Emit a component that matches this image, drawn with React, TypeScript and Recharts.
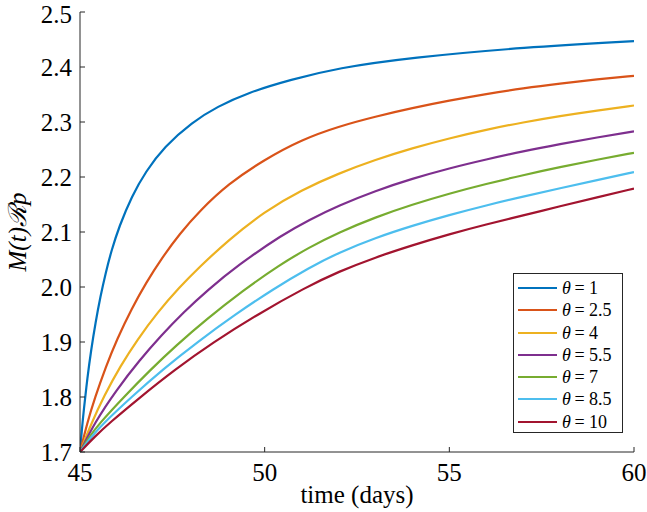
import React from 'react';
import { LineChart, Line, XAxis, YAxis, Legend, Label } from 'recharts';

const seriesNames = ['1', '2.5', '4', '5.5', '7', '8.5', '10'];
const seriesColors = ['#0072BD', '#D95319', '#EDB120', '#7E2F8E', '#77AC30', '#4DBEEE', '#A2142F'];

const t1 = [45, 45.05, 45.1, 45.2, 45.3, 45.42, 45.55, 45.7, 45.85, 46.06, 46.4, 46.78, 47.28, 48.04, 48.72, 49.53, 50.71, 51.97, 53.94, 57.05, 60];
const v1 = [1.7, 1.74, 1.775, 1.835, 1.885, 1.935, 1.982, 2.027, 2.066, 2.11, 2.165, 2.21, 2.255, 2.3, 2.328, 2.353, 2.377, 2.398, 2.417, 2.436, 2.447];

const t2 = [45, 45.2, 45.4, 45.7, 46, 46.4, 46.8, 47.2, 47.7, 48.25, 49, 50, 51, 52, 53, 54, 55, 56, 57, 58, 59, 60];
const v2 = [1.7, 1.754, 1.798, 1.855, 1.905, 1.961, 2.009, 2.051, 2.097, 2.139, 2.187, 2.232, 2.268, 2.292, 2.31, 2.3255, 2.339, 2.351, 2.3615, 2.37, 2.3775, 2.384];

const t3 = [45, 45.3, 45.65, 46.1, 46.55, 47.1, 47.7, 48.2, 49, 50, 51, 52, 53, 54, 55, 56, 57, 58, 59, 60];
const v3 = [1.7, 1.751, 1.802, 1.857, 1.904, 1.954, 2.0, 2.034, 2.0845, 2.1375, 2.1765, 2.2065, 2.2315, 2.2525, 2.2705, 2.286, 2.2995, 2.311, 2.321, 2.33];

const t4 = [45, 45.4, 46, 46.6, 47.2, 47.8, 48.45, 49.26, 50.5, 51.2, 52, 53, 54, 55, 56, 57, 58, 59, 60];
const v4 = [1.7, 1.754, 1.814, 1.866, 1.912, 1.954, 1.994, 2.039, 2.096, 2.122, 2.148, 2.175, 2.197, 2.216, 2.232, 2.247, 2.26, 2.272, 2.283];

const t5 = [45, 45.25, 45.5, 46.2, 46.9, 47.6, 48.4, 49.4, 50.4, 51.2, 52, 53, 54, 55, 56, 57, 58, 59, 60];
const v5 = [1.7, 1.7275, 1.75, 1.801, 1.849, 1.8935, 1.94, 1.993, 2.04, 2.072, 2.099, 2.127, 2.15, 2.17, 2.1875, 2.2035, 2.218, 2.2315, 2.244];

const t6 = [45, 45.3, 45.6, 46.4, 47.25, 48.2, 49.2, 50.25, 51.2, 52, 53, 54, 55, 56, 57, 58, 59, 60];
const v6 = [1.7, 1.727, 1.75, 1.8005, 1.8507, 1.901, 1.95, 1.997, 2.035, 2.0625, 2.0895, 2.1115, 2.131, 2.1485, 2.1645, 2.1795, 2.1943, 2.209];

const t7 = [45, 45.4, 45.8, 46.6, 47.55, 48.6, 49.8, 51.1, 52, 53, 54, 55, 56, 57, 58, 59, 60];
const v7 = [1.7, 1.728, 1.753, 1.798, 1.849, 1.899, 1.95, 1.999, 2.028, 2.054, 2.076, 2.096, 2.114, 2.13, 2.147, 2.163, 2.179];

const seriesT = [t1, t2, t3, t4, t5, t6, t7];
const seriesV = [v1, v2, v3, v4, v5, v6, v7];

const xTicks = [45, 50, 55, 60];
const yTicks = [1.7, 1.8, 1.9, 2.0, 2.1, 2.2, 2.3, 2.4, 2.5];

const FONT = '"Liberation Serif", "Times New Roman", Times, serif';

const seriesData = seriesT.map((ts, i) => ts.map((t, j) => ({ t, v: seriesV[i][j] })));

const LegendBox = () => {
  return (
    <div
      style={{
        boxSizing: 'border-box',
        width: 110,
        height: 160,
        border: '1px solid #262626',
        background: '#fff',
        paddingTop: 3,
      }}
    >
      {seriesNames.map((name, i) => (
        <div key={i} style={{ position: 'relative', height: 22.3 }}>
          <div
            style={{
              position: 'absolute',
              left: 4,
              top: 10,
              width: 39,
              height: 2,
              background: seriesColors[i],
            }}
          />
          <div
            style={{
              position: 'absolute',
              left: 48,
              top: 0,
              lineHeight: '22px',
              fontFamily: FONT,
              fontSize: 18,
              color: '#000',
              whiteSpace: 'nowrap',
            }}
          >
            <span style={{ fontStyle: 'italic' }}>θ</span>
            <span>{'\u2009= ' + name}</span>
          </div>
        </div>
      ))}
    </div>
  );
};

const YLabel = (props: any) => {
  const vb = props.viewBox || { x: 0, y: 12, width: 80, height: 440 };
  const cx = vb.x + 17;
  const cy = vb.y + vb.height / 2;
  return (
    <text
      x={cx}
      y={cy}
      transform={`rotate(-90, ${cx}, ${cy})`}
      textAnchor="middle"
      dominantBaseline="central"
      fontFamily={FONT}
      fontSize={25}
      fontStyle="italic"
      fill="#000"
    >
      M(t)ℛp
    </text>
  );
};

export default function App() {
  const axisColor = '#262626';
  return (
    <div style={{ position: 'absolute', left: 0, top: 0, background: '#fff' }}>
      <LineChart width={647} height={512} margin={{ top: 12, right: 13, left: 0, bottom: 0 }}>
        <XAxis
          xAxisId="b"
          dataKey="t"
          type="number"
          domain={[45, 60]}
          ticks={xTicks}
          allowDataOverflow
          height={60}
          stroke={axisColor}
          tickSize={-5}
          tickMargin={16}
          tick={{ fontFamily: FONT, fontSize: 25, fill: '#000' }}
        >
          <Label
            value="time (days)"
            position="insideBottom"
            offset={9}
            style={{ fontFamily: FONT, fontSize: 25, fill: '#000' }}
          />
        </XAxis>
        <XAxis
          xAxisId="t"
          orientation="top"
          dataKey="t"
          type="number"
          domain={[45, 60]}
          ticks={xTicks}
          allowDataOverflow
          height={0}
          stroke={axisColor}
          tickSize={-5}
          tickFormatter={() => ''}
        />
        <YAxis
          yAxisId="l"
          type="number"
          domain={[1.7, 2.5]}
          ticks={yTicks}
          allowDataOverflow
          width={80}
          stroke={axisColor}
          tickSize={-5}
          tickMargin={13}
          tickFormatter={(v: number) => v.toFixed(1)}
          tick={{ fontFamily: FONT, fontSize: 25, fill: '#000' }}
        >
          <Label content={<YLabel />} />
        </YAxis>
        <YAxis
          yAxisId="r"
          orientation="right"
          type="number"
          domain={[1.7, 2.5]}
          ticks={yTicks}
          allowDataOverflow
          width={0}
          stroke={axisColor}
          tickSize={-5}
          tickFormatter={() => ''}
        />
        {seriesData.map((d, i) => (
          <Line
            key={i}
            xAxisId="b"
            yAxisId="l"
            data={d}
            dataKey="v"
            name={'θ = ' + seriesNames[i]}
            type="basis"
            stroke={seriesColors[i]}
            strokeWidth={2.2}
            dot={false}
            activeDot={false}
            isAnimationActive={false}
          />
        ))}
        <Legend
          layout="vertical"
          align="center"
          verticalAlign="middle"
          content={<LegendBox />}
          wrapperStyle={{ left: 513, top: 273, width: 110, height: 160 }}
        />
      </LineChart>
    </div>
  );
}
